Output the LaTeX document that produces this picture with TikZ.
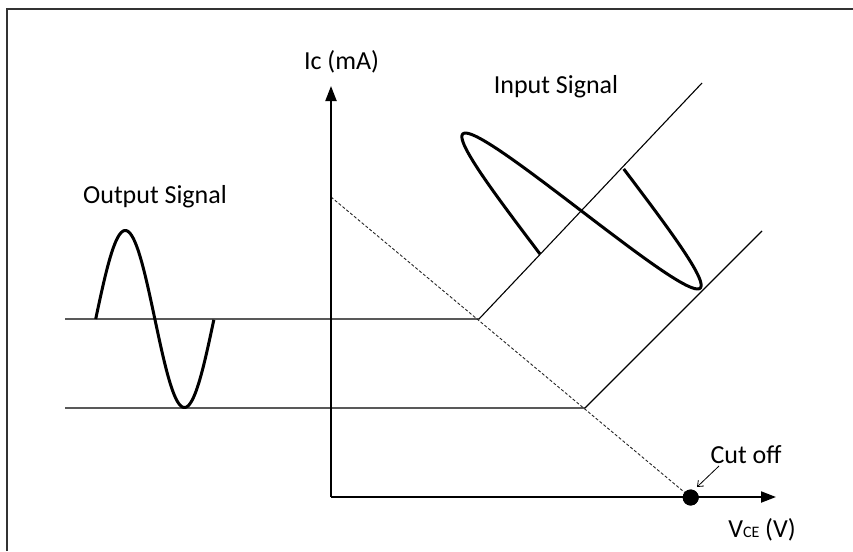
\documentclass[tikz,border=0pt]{standalone}
\usepackage{fontspec}
\setmainfont{Carlito}
\usetikzlibrary{arrows.meta}
\begin{document}
\begin{tikzpicture}[x=1pt,y=-1pt,
  lbl/.style={font=\fontsize{26}{30}\selectfont, inner sep=0pt, anchor=base},
  thinline/.style={line width=1.1pt, black},
  axisline/.style={line width=2pt, -{Triangle[length=15pt,width=11pt]}},
  sig/.style={line width=3pt, line join=round, line cap=butt},
  loadline/.style={line width=0.9pt, dash pattern=on 3pt off 2pt, black!85},
  frameline/.style={line width=1.5pt, black!80}]
\useasboundingbox (0,0) rectangle (853,551);
% frame
\coordinate (F1) at (7,551);
\coordinate (F2) at (7,9);
\coordinate (F3) at (853,9);
\draw[frameline] (F1) -- (F2) -- (F3);
% key points
\coordinate (O) at (331,497);
\coordinate (Ytip) at (331,86);
\coordinate (Xtip) at (776,497);
\coordinate (Ltop) at (331,197);
\coordinate (A) at (479,319);
\coordinate (B) at (585,408);
\coordinate (Al) at (65,319);
\coordinate (Bl) at (65,408);
\coordinate (Ad) at (702,83);
\coordinate (Bd) at (762,231);
% grid lines
\draw[thinline] (Al) -- (A) -- (Ad);
\draw[thinline] (Bl) -- (B) -- (Bd);
% load line
\node[circle, fill=black, inner sep=0pt, minimum size=16pt] (cut) at (690.7,497.5) {};
\draw[loadline] (Ltop) -- (cut.center);
% axes
\draw[axisline] (O) -- (Ytip);
\draw[axisline] (O) -- (Xtip);
\node[circle, fill=black, inner sep=0pt, minimum size=16pt] at (cut) {};
% output signal
\draw[sig] plot[domain=0:1, samples=120, smooth] ({95.7+118.3*\x},{319-88.5*sin(360*\x)});
% input signal
\draw[sig] plot[domain=0:1, samples=120, smooth] ({540+83*\x-98*sin(360*\x)},{254-86*\x-98.5*sin(360*\x)});
% labels
\node[lbl] (outl) at (155,203) {Output Signal};
\node[lbl] (inl) at (556,93) {Input Signal};
\node[lbl] (icl) at (341.5,69.5) {Ic (mA)};
\node[lbl] (cutl) at (746,463) {Cut off};
\node[lbl] (vcel) at (762,537) {V{\fontsize{16}{16}\selectfont CE} (V)};
\draw[line width=0.8pt, -{Straight Barb[length=5pt,width=8pt]}] (719,466) -- (697,487);
\end{tikzpicture}
\end{document}
